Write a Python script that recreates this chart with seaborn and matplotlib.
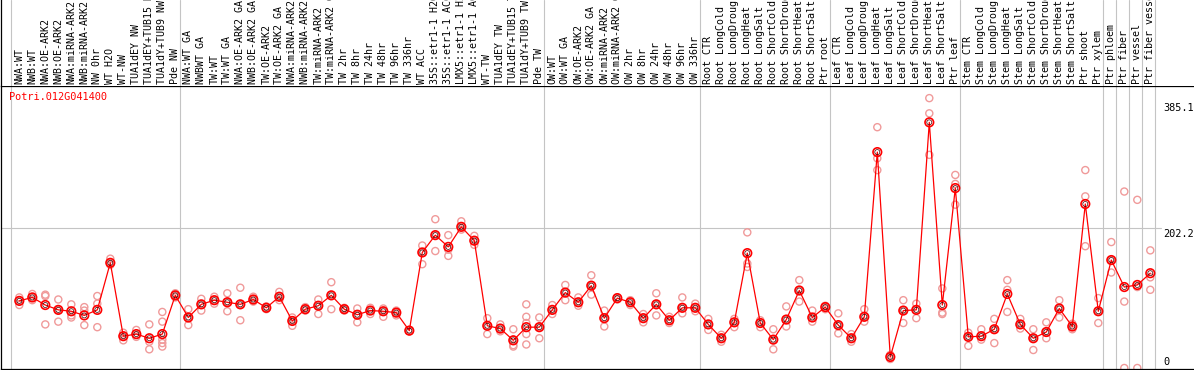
import pandas as pd
import matplotlib
matplotlib.use("Agg")
import matplotlib.pyplot as plt
import seaborn as sns

# categories (one column each), left to right
labels = [
    "NWA:WT", "NWB:WT", "NWA:OE-ARK2", "NWB:OE-ARK2", "NWA:miRNA-ARK2", "NWB:miRNA-ARK2",
    "NW 0hr", "WT H2O", "WT-NW", "TUA1dEY NW", "TUA1dEY+TUB15 NW", "TUA1dY+TUB9 NW", "Pde NW",
    "NWA:WT GA", "NWBWT GA", "TW:WT", "TW:WT GA", "NWA:OE-ARK2 GA", "NWB:OE-ARK2 GA",
    "TW:OE-ARK2", "TW:OE-ARK2 GA", "NWA:miRNA-ARK2 GA", "NWB:miRNA-ARK2 GA", "TW:miRNA-ARK2",
    "TW:miRNA-ARK2 GA", "TW 2hr", "TW 8hr", "TW 24hr", "TW 48hr", "TW 96hr", "TW 336hr",
    "WT ACC", "35S::etr1-1 H2O", "35S::etr1-1 ACC", "LMX5::etr1-1 H2O", "LMX5::etr1-1 ACC",
    "WT-TW", "TUA1dEY TW", "TUA1dEY+TUB15 TW", "TUA1dY+TUB9 TW", "Pde TW",
    "OW:WT", "OW:WT GA", "OW:OE-ARK2", "OW:OE-ARK2 GA", "OW:miRNA-ARK2", "OW:miRNA-ARK2 GA",
    "OW 2hr", "OW 8hr", "OW 24hr", "OW 48hr", "OW 96hr", "OW 336hr",
    "Root CTR", "Root LongCold", "Root LongDrought", "Root LongHeat", "Root LongSalt",
    "Root ShortCold", "Root ShortDrought", "Root ShortHeat", "Root ShortSalt", "Ptr root",
    "Leaf CTR", "Leaf LongCold", "Leaf LongDrought", "Leaf LongHeat", "Leaf LongSalt",
    "Leaf ShortCold", "Leaf ShortDrought", "Leaf ShortHeat", "Leaf ShortSalt", "Ptr leaf",
    "Stem CTR", "Stem LongCold", "Stem LongDrought", "Stem LongHeat", "Stem LongSalt",
    "Stem ShortCold", "Stem ShortDrought", "Stem ShortHeat", "Stem ShortSalt", "Ptr shoot",
    "Ptr xylem", "Ptr phloem", "Ptr fiber", "Ptr vessel", "Ptr fiber vessel",
]

# index of the last column of each block (a grey separator follows it)
group_ends = [-1, 12, 40, 52, 62, 72, 83, 84, 85, 86, 87]

# mean expression per column
means = [
    97, 102, 91, 84, 82, 76, 84, 152, 46, 49, 43, 49, 105,
    73, 92, 98, 95, 92, 99, 87, 103, 68, 85, 90, 105, 85, 77, 83, 82, 80, 54,
    167, 192, 175, 204, 184, 61, 57, 40, 59, 59,
    84, 109, 95, 119, 72, 101, 95, 72, 92, 69, 87, 87,
    63, 43, 66, 166, 65, 41, 70, 112, 73, 88,
    62, 43, 74, 312, 16, 83, 84, 355, 91, 260,
    45, 46, 56, 107, 63, 43, 52, 86, 60, 237, 82,
    156, 117, 120, 137,
]

# individual replicates per column
replicates = [
    [102, 97, 91], [107, 102, 98], [106, 104, 63], [99, 84, 67], [92, 76, 73],
    [88, 83, 62], [104, 93, 59], [158, 152, 149], [51, 46, 40], [55, 48, 45],
    [63, 38, 27], [81, 67, 41, 36, 31], [108, 105, 102],
    [85, 73, 62], [100, 92, 83], [103, 98, 93], [108, 95, 82], [116, 92, 69],
    [103, 99, 96], [89, 87, 85], [110, 103, 98], [73, 68, 61], [88, 85, 83],
    [99, 90, 78], [124, 105, 85], [87, 85, 83], [86, 77, 66], [87, 83, 78],
    [86, 82, 74], [83, 80, 76], [55, 54, 53], [177, 167, 150], [215, 192, 169],
    [192, 171, 162], [212, 204, 200], [191, 184, 178], [72, 61, 49], [63, 57, 53],
    [56, 41, 33, 31], [92, 74, 65, 49, 34], [73, 59, 43],
    [91, 84, 78], [120, 109, 98], [102, 95, 90], [134, 119, 106], [83, 72, 60],
    [102, 101, 99], [98, 95, 91], [78, 72, 66], [108, 92, 76], [74, 69, 65],
    [102, 87, 79], [93, 87, 82],
    [71, 63, 55], [48, 43, 38], [71, 66, 59], [196, 151, 146], [69, 65, 59],
    [56, 41, 27], [89, 70, 60], [127, 112, 96], [83, 73, 67], [90, 88, 85],
    [79, 62, 50], [49, 43, 38], [85, 74, 67], [348, 303, 286], [19, 16, 13],
    [98, 83, 65], [93, 84, 72], [390, 368, 308], [115, 80, 78], [279, 266, 236],
    [51, 45, 32], [56, 46, 41], [71, 56, 36], [127, 113, 81], [71, 63, 57],
    [56, 43, 26], [66, 52, 43], [98, 86, 73], [64, 60, 56], [286, 248, 176],
    [101, 82, 65],
    [182, 156, 138], [255, 96, 0], [243, 117, 0], [170, 131, 113],
]

gene = "Potri.012G041400"
ytick_vals = [0, 202.2, 385.1]

# long-form tables for seaborn
idx = list(range(len(labels)))
df_mean = pd.DataFrame({"pos": idx, "value": means})
df_rep = pd.DataFrame(
    [(i, v) for i, reps in enumerate(replicates) for v in reps],
    columns=["pos", "value"],
)

sns.set_style("white")
plt.rcParams["font.family"] = ["DejaVu Sans Mono", "DejaVu Sans"]

W, H = 1194, 370
fig = plt.figure(figsize=(W / 100, H / 100), dpi=100)

# pixel geometry: column i sits at x = 19.3 + 13*i, value 0 at y=368, 0.692 px per unit
x0, dx = 19.3, 13.0
xlim = ((1 - x0) / dx, (W - x0) / dx)
ppu, y0 = 0.692, 368.0
ylim = ((y0 - 369) / ppu, (y0 - 86) / ppu)

ax = fig.add_axes([1 / W, 1 / H, (W - 1) / W, 283 / H])
hd = fig.add_axes([1 / W, (H - 86) / H, (W - 1) / W, 86 / H])

grid_c = "#c4c4c4"
for a in (ax, hd):
    a.set_xlim(*xlim)
    for g in group_ends:
        a.axvline(g + 0.35, color=grid_c, lw=0.8, zorder=1)
    a.set_xticks([])
    a.set_yticks([])
    a.set_facecolor("white")

ax.set_ylim(*ylim)
ax.axhline(202.2, xmin=0, xmax=(1161 - 1) / (W - 1), color=grid_c, lw=0.8, zorder=1)

sns.scatterplot(data=df_rep, x="pos", y="value", ax=ax, marker="o", s=26,
                facecolor="none", edgecolor="#f09a9a", linewidth=1.0, zorder=2, legend=False)
sns.lineplot(data=df_mean, x="pos", y="value", ax=ax, color="red", lw=0.9,
             errorbar=None, zorder=3, legend=False)
sns.scatterplot(data=df_mean, x="pos", y="value", ax=ax, marker="o", s=38,
                facecolor="none", edgecolor="red", linewidth=1.2, zorder=4, legend=False)
sns.scatterplot(data=df_mean, x="pos", y="value", ax=ax, marker="o", s=13,
                facecolor="none", edgecolor="#400000", linewidth=0.5, zorder=5, legend=False)
ax.set_xlabel("")
ax.set_ylabel("")

# value labels on the right
lab_x = (1163 - x0) / dx
for v in ytick_vals:
    if v == 0:
        ax.text(lab_x, v + 2, "0", ha="left", va="bottom", fontsize=7.4, color="black")
    else:
        ax.text(lab_x, v - 1.5, f"{v}", ha="left", va="top", fontsize=7.4, color="black")

ax.spines["right"].set_visible(False)
for s in ("left", "bottom", "top"):
    ax.spines[s].set_color("black")
    ax.spines[s].set_linewidth(0.9)

hd.set_ylim(0, 86)
for s in ("right", "top", "bottom"):
    hd.spines[s].set_visible(False)
hd.spines["left"].set_color("black")
hd.spines["left"].set_linewidth(0.9)
for i, lab in enumerate(labels):
    hd.text(i, 2.5, lab, rotation=90, rotation_mode="anchor", ha="left", va="center",
            fontsize=7.2, color="black", clip_on=False)

fig.text(9.5 / W, 1 - 97.5 / H, gene, color="red", fontsize=7.4, ha="left", va="center")

fig.savefig("out.png", dpi=100)
